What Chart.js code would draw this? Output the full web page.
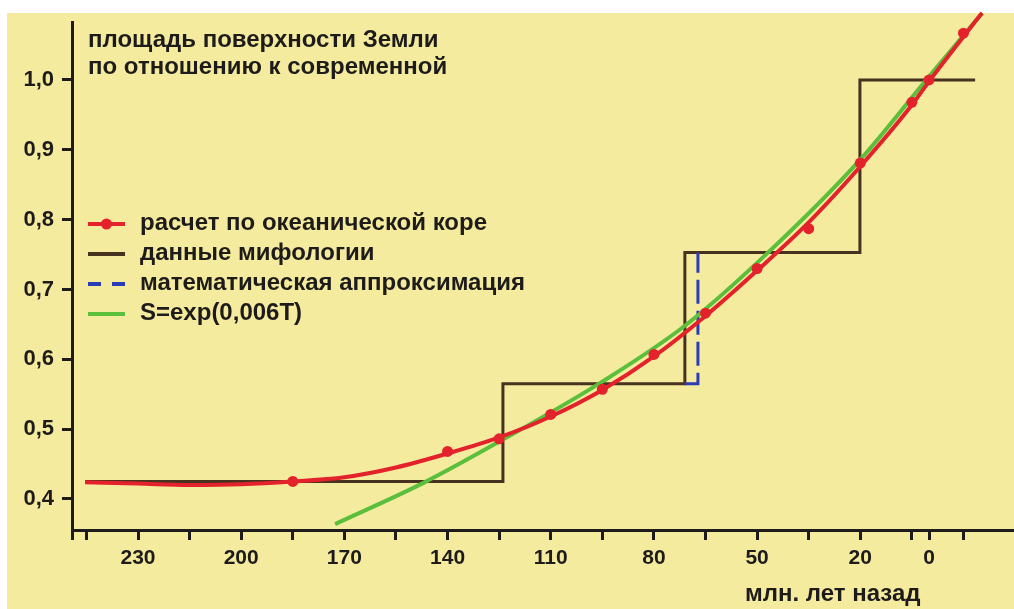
<!DOCTYPE html>
<html>
<head>
<meta charset="utf-8">
<script src="https://cdn.jsdelivr.net/npm/chart.js@4.4.1/dist/chart.umd.min.js"></script>
<style>
  html, body { margin: 0; padding: 0; background: #ffffff; }
  #wrap { width: 1014px; height: 609px; position: relative; }
</style>
</head>
<body>
<div id="wrap"><canvas id="chart" width="1014" height="609"></canvas></div>
<script>
// Ages are in millions of years before present (negative = future),
// area is the Earth's surface relative to today.
const oceanAges = [185, 140, 125, 110, 95, 80, 65, 50, 35, 20, 5, 0, -10];
const oceanArea = [0.425, 0.468, 0.486, 0.521, 0.557, 0.607, 0.666, 0.730, 0.787, 0.881, 0.968, 1.000, 1.067];

const oceanFitAges = [245.4, 230, 215, 200, 185, 170, 155, 140, 125, 110, 95, 80, 65, 50, 35, 20, 5, 0, -10, -15.4];
const oceanFitArea = [0.424, 0.422, 0.420, 0.421, 0.425, 0.431, 0.445, 0.465, 0.488, 0.518, 0.556, 0.604, 0.662, 0.727, 0.796, 0.876, 0.964, 0.998, 1.062, 1.096];

const mythAges = [245.4, 123.9, 123.9, 71.0, 71.0, 20.1, 20.1, -13.4];
const mythArea = [0.425, 0.425, 0.565, 0.565, 0.753, 0.753, 1.000, 1.000];

const approxAges = [71.0, 67.2, 67.2];
const approxArea = [0.565, 0.565, 0.753];

const expAges = [172.7, 147, 125, 95, 71, 47, 20, 0, -15.5];
const expArea = [0.364, 0.423, 0.482, 0.568, 0.648, 0.752, 0.886, 1.005, 1.096];

const xTickValues = [245, 230, 215, 200, 185, 170, 155, 140, 125, 110, 95, 80, 65, 50, 35, 20, 5, 0, -10];
const xLabelled = [230, 200, 170, 140, 110, 80, 50, 20, 0];
const yTickValues = [0.4, 0.5, 0.6, 0.7, 0.8, 0.9, 1.0];

const seriesNames = [
  'расчет по океанической коре',
  'данные мифологии',
  'математическая аппроксимация',
  'S=exp(0,006T)'
];
const titleLines = ['площадь поверхности Земли', 'по отношению к современной'];
const xAxisTitle = 'млн. лет назад';

const FONT = '"Liberation Sans", Arial, Helvetica, sans-serif';
const INK = '#1d1c1a';
const RED = '#e3222b';
const BROWN = '#47311f';
const BLUE = '#2b3db6';
const GREEN = '#5cbf3b';
const PAPER = '#f5eb9f';

const zip = (xs, ys) => xs.map((x, i) => ({ x, y: ys[i] }));

// Paper background behind the plot
const paperPlugin = {
  id: 'paper',
  beforeDraw(chart) {
    const ctx = chart.ctx;
    ctx.save();
    ctx.fillStyle = '#ffffff';
    ctx.fillRect(0, 0, chart.width, chart.height);
    ctx.fillStyle = PAPER;
    ctx.fillRect(7, 13, chart.width - 7, chart.height - 13);
    ctx.restore();
  }
};

// Heading, legend block and the x-axis caption
const annotatePlugin = {
  id: 'annotate',
  afterDraw(chart) {
    const ctx = chart.ctx;
    const area = chart.chartArea;
    ctx.save();
    ctx.fillStyle = INK;
    ctx.textAlign = 'left';
    ctx.textBaseline = 'alphabetic';
    ctx.font = 'bold 24px ' + FONT;
    ctx.fillText(titleLines[0], area.left + 16, 47);
    ctx.fillText(titleLines[1], area.left + 16, 74);

    // legend
    const rows = chart.data.datasets.filter(d => d.legendRow !== undefined)
      .sort((a, b) => a.legendRow - b.legendRow);
    const x0 = area.left + 16, x1 = area.left + 53, tx = area.left + 68;
    rows.forEach((d, i) => {
      const base = 230 + i * 30;
      const cy = base - 6;
      ctx.save();
      ctx.strokeStyle = d.borderColor;
      ctx.lineWidth = 4;
      ctx.setLineDash(d.borderDash ? [13, 11] : []);
      ctx.beginPath();
      ctx.moveTo(x0, cy);
      ctx.lineTo(x1, cy);
      ctx.stroke();
      if (d.legendMarker) {
        ctx.fillStyle = d.legendMarker;
        ctx.beginPath();
        ctx.arc((x0 + x1) / 2, cy, 5.5, 0, Math.PI * 2);
        ctx.fill();
      }
      ctx.restore();
      ctx.fillStyle = INK;
      ctx.font = 'bold 24px ' + FONT;
      ctx.fillText(d.label, tx, base);
    });

    ctx.font = 'bold 24px ' + FONT;
    ctx.fillText(xAxisTitle, 745, 601);
    ctx.restore();
  }
};

const noSidePadding = s => { s.paddingLeft = 0; s.paddingRight = 0; s.paddingTop = 0; s.paddingBottom = 0; };

new Chart(document.getElementById('chart'), {
  type: 'scatter',
  data: {
    datasets: [
      {
        label: seriesNames[0] + ' (точки)',
        data: zip(oceanAges, oceanArea),
        showLine: false,
        pointRadius: 5.5,
        pointBackgroundColor: RED,
        pointBorderWidth: 0,
        clip: false
      },
      {
        label: seriesNames[0],
        legendRow: 0,
        legendMarker: RED,
        data: zip(oceanFitAges, oceanFitArea),
        showLine: true,
        borderColor: RED,
        borderWidth: 4,
        pointRadius: 0,
        cubicInterpolationMode: 'monotone',
        clip: false
      },
      {
        label: seriesNames[3],
        legendRow: 3,
        data: zip(expAges, expArea),
        showLine: true,
        borderColor: GREEN,
        borderWidth: 4,
        pointRadius: 0,
        cubicInterpolationMode: 'monotone',
        clip: false
      },
      {
        label: seriesNames[2],
        legendRow: 2,
        data: zip(approxAges, approxArea),
        showLine: true,
        borderColor: BLUE,
        borderWidth: 3,
        borderDash: [24, 7],
        pointRadius: 0,
        tension: 0
      },
      {
        label: seriesNames[1],
        legendRow: 1,
        data: zip(mythAges, mythArea),
        showLine: true,
        borderColor: BROWN,
        borderWidth: 3,
        pointRadius: 0,
        tension: 0
      }
    ]
  },
  options: {
    responsive: false,
    animation: false,
    events: [],
    layout: { autoPadding: false, padding: { top: 22, left: 0, right: 0, bottom: 0 } },
    plugins: {
      legend: { display: false },
      tooltip: { enabled: false },
      title: { display: false }
    },
    scales: {
      x: {
        type: 'linear',
        position: 'bottom',
        reverse: true,
        min: -24.7,
        max: 249.2,
        afterBuildTicks: s => { s.ticks = [s.max].concat(xTickValues).map(v => ({ value: v })); },
        afterFit: s => { s.height = 79; noSidePadding(s); },
        border: { display: true, color: INK, width: 3 },
        grid: { drawOnChartArea: false, drawTicks: true, tickLength: 10, tickWidth: 3, tickColor: INK },
        ticks: {
          autoSkip: false,
          maxRotation: 0,
          padding: 6,
          color: INK,
          font: { family: FONT, size: 21, weight: 'bold' },
          callback: v => xLabelled.includes(v) ? String(v) : ''
        }
      },
      y: {
        type: 'linear',
        min: 0.3555,
        max: 1.083,
        afterBuildTicks: s => { s.ticks = yTickValues.map(v => ({ value: v })); },
        afterFit: s => { s.width = 72; noSidePadding(s); },
        border: { display: true, color: INK, width: 3 },
        grid: { drawOnChartArea: false, drawTicks: true, tickLength: 10, tickWidth: 3, tickColor: INK },
        ticks: {
          padding: 8,
          color: INK,
          font: { family: FONT, size: 22, weight: 'bold' },
          callback: v => v.toFixed(1).replace('.', ',')
        }
      }
    }
  },
  plugins: [paperPlugin, annotatePlugin]
});
</script>
</body>
</html>
